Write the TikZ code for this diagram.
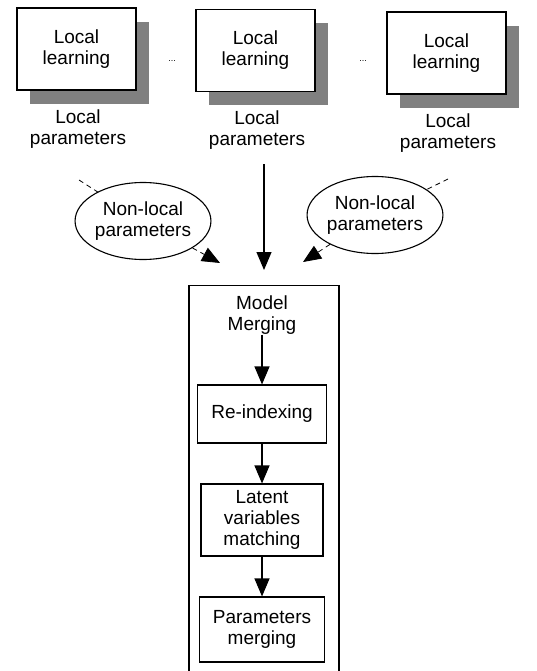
\documentclass[tikz,border=0pt]{standalone}
\usepackage{fontspec}
\setmainfont{Liberation Sans}
\usetikzlibrary{arrows.meta,shapes.geometric}

\begin{document}
\begin{tikzpicture}
  [x=1pt,y=-1pt,line width=1.1pt,
   every node/.style={font=\fontsize{19}{21}\selectfont,align=center,inner sep=0pt},
   learn/.style={draw,fill=white,minimum width=119pt,minimum height=82pt},
   shade/.style={fill=black!50,minimum width=119pt,minimum height=82pt},
   cloud/.style={draw,ellipse,fill=white,minimum width=125pt,minimum height=77pt},
   stage/.style={draw,fill=white},
   tip/.style={-{Triangle[length=18pt,width=15pt]}},
   dashline/.style={dash pattern=on 5pt off 4pt,line width=0.8pt}]
  \useasboundingbox (0,0) rectangle (536,671);
  \clip (0,0) rectangle (536,671);
  % local learners with their shadows
  \foreach \n/\x/\y in {1/76.5/49,2/255.5/50.5,3/446.5/53} {
    \node[shade] (ns\n) at (\x+13,\y+14) {};
    \node[learn] (nl\n) at (\x,\y) {Local\\learning};
    \node (np\n) at (\x+1.5,\y+80) {Local\\parameters};
  }
  \node[font=\fontsize{9}{9}\selectfont] (nd1) at (172,61) {...};
  \node[font=\fontsize{9}{9}\selectfont] (nd2) at (363,61) {...};
  % non-local parameters
  \coordinate (lin) at (79,180);
  \coordinate (lout) at (220,263);
  \coordinate (rin) at (448,179);
  \coordinate (rout) at (303,262);
  \draw[dashline] (lin) -- (143,221);
  \draw[dashline] (rin) -- (375,215);
  \node[cloud] (ncl) at (143,221) {Non-local\\parameters};
  \node[cloud] (ncr) at (375,215) {Non-local\\parameters};
  \draw[dashline,tip] (ncl) -- (lout);
  \draw[dashline,tip] (ncr) -- (rout);
  \coordinate (cin) at (264,270);
  \draw[tip] (np2.south -| cin) ++(0,14) -- (cin);
  % model merging
  \node[draw,minimum width=150pt,minimum height=420pt,anchor=north] (nm) at (264,285) {};
  \node (nmt) at (262,315) {Model\\Merging};
  \node[stage,minimum width=129pt,minimum height=58pt] (nr) at (262,414) {Re-indexing};
  \node[stage,minimum width=122pt,minimum height=72pt] (nv) at (262,520) {Latent\\variables\\matching};
  \node[stage,minimum width=125pt,minimum height=65pt] (nq) at (262,629.5) {Parameters\\merging};
  \foreach \from/\to in {nmt/nr,nr/nv,nv/nq}
    \draw[tip] (\from.south) -- (\to.north);
\end{tikzpicture}
\end{document}
